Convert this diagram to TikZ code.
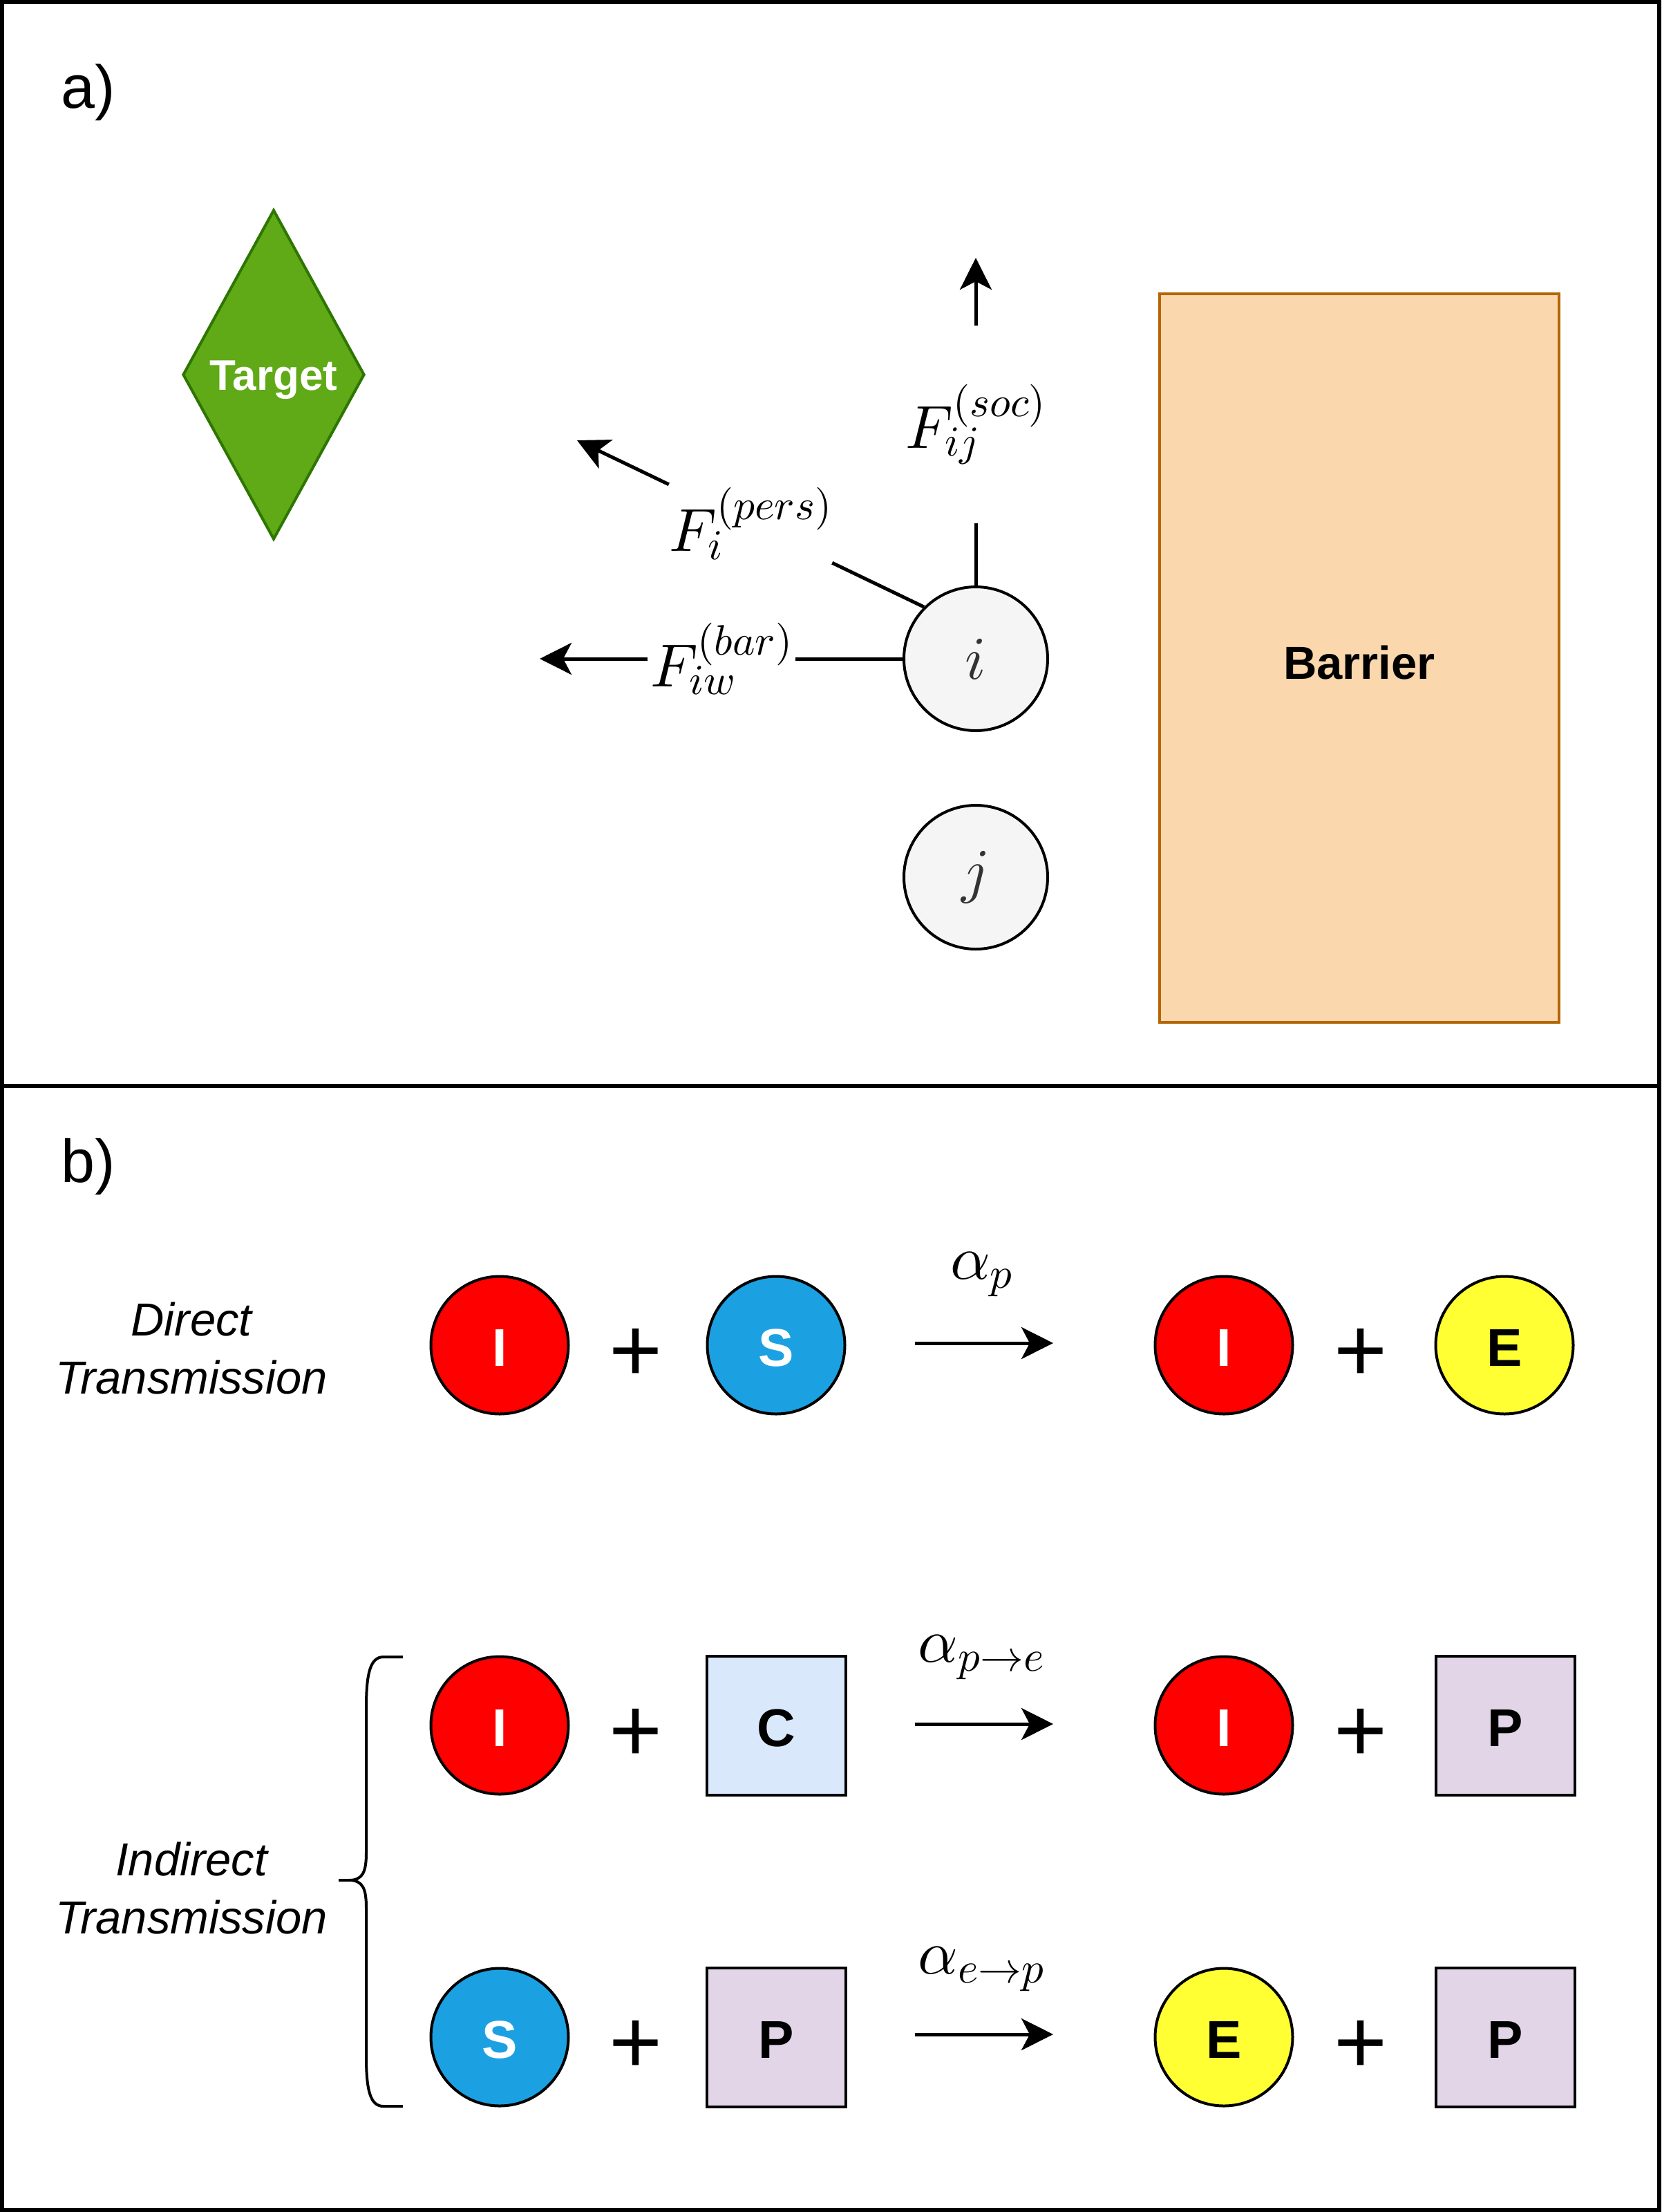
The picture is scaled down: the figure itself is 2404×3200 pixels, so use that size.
\RequirePackage{fix-cm}
\documentclass[tikz,border=0pt]{standalone}
\usepackage[no-math]{fontspec}
\setmainfont{Liberation Sans}
\usetikzlibrary{arrows.meta,shapes.geometric,calc}
% single-design (scaled 10pt) math fonts, as MathJax renders them
\DeclareFontShape{OML}{cmm}{m}{it}{<->cmmi10}{\skewchar\font127}
\DeclareFontShape{OT1}{cmr}{m}{n}{<->cmr10}{}
\DeclareFontShape{OMS}{cmsy}{m}{n}{<->cmsy10}{\skewchar\font48}
\definecolor{cred}{HTML}{FF0000}
\definecolor{cblue}{HTML}{1BA1E2}
\definecolor{cyel}{HTML}{FFFF33}
\definecolor{cC}{HTML}{DAE8FC}
\definecolor{cP}{HTML}{E1D5E7}
\definecolor{barfill}{HTML}{FAD7AC}
\definecolor{barline}{HTML}{B46504}
\definecolor{tgfill}{HTML}{60A917}
\definecolor{tgline}{HTML}{2D7600}
\definecolor{agfill}{HTML}{F5F5F5}
\definecolor{agtext}{HTML}{333333}
\newcommand\fsz[1]{\fontsize{#1}{#1}\selectfont}
\tikzset{
  panellbl/.style={inner sep=0pt, font=\fsz{88}},
  agent/.style={circle, draw=black, line width=4pt, fill=agfill, minimum size=208pt, inner sep=0pt, text=agtext, font=\fsz{88}},
  flabel/.style={inner sep=0pt, font=\fsz{88}},
  arr/.style={line width=5pt, -{Stealth[length=46pt,width=46pt,inset=12pt]}},
  fline/.style={line width=5pt},
  token/.style={circle, draw=black, line width=4pt, minimum size=199pt, inner sep=0pt, text height=61pt, text depth=0pt, font=\bfseries\fsz{77}},
  sq/.style={rectangle, draw=black, line width=4pt, minimum size=201pt, inner sep=0pt, text height=61pt, text depth=0pt, font=\bfseries\fsz{77}},
  tI/.style={token, fill=cred, text=white},
  tS/.style={token, fill=cblue, text=white},
  tE/.style={token, fill=cyel, text=black},
  sC/.style={sq, fill=cC},
  sP/.style={sq, fill=cP},
  plus/.style={inner sep=0pt, font=\fsz{132}},
  rate/.style={inner sep=0pt, font=\fsz{90}},
  sidelbl/.style={inner sep=0pt, align=center, font=\itshape\fontsize{67}{84}\selectfont},
}
\begin{document}
\begin{tikzpicture}[x=1pt,y=-1pt]
\useasboundingbox (0,0) rectangle (2404,3200);
% frames
\draw[line width=6pt] (3,3) rectangle (2401,3197);
\draw[line width=6pt] (0,1571) -- (2404,1571);

% ---------- panel a ----------
\node[panellbl, anchor=base west] (la) at (88,157) {a)};

\node[diamond, draw=tgline, fill=tgfill, line width=4pt, minimum width=263pt, minimum height=477pt, inner sep=0pt, text height=45pt, text depth=0pt, text=white, font=\bfseries\fsz{62}] (target) at (396,542) {Target};

\node[rectangle, draw=barline, fill=barfill, line width=3.5pt, minimum width=578pt, minimum height=1054pt, inner sep=0pt, text height=60pt, text depth=0pt, font=\bfseries\fsz{67}] (barrier) at (1967,952) {Barrier};

\node[agent] (i) at (1412,953) {$i$};
\node[agent] (j) at (1412,1269) {$j$};

% social force
\coordinate (soctip) at (1412,373);
\node[flabel, minimum height=285pt, minimum width=200pt] (socl) at (1412,614) {$F_{ij}^{(soc)}$};
\draw[fline] (i) -- (socl);
\draw[arr] (socl) -- (soctip);

% personal force
\coordinate (perstip) at (835,637);
\node[flabel, minimum width=236pt, minimum height=130pt] (persl) at ($(i.135)!0.5!(perstip)$) {$F_{i}^{(pers)}$};
\draw[fline] (i.135) -- (persl);
\draw[arr] (persl) -- (perstip);

% barrier force
\coordinate (bartip) at (781,953);
\node[flabel, minimum width=213pt, minimum height=150pt] (barl) at (1044,953) {$F_{iw}^{(bar)}$};
\draw[fline] (i) -- (barl);
\draw[arr] (barl) -- (bartip);

% ---------- panel b ----------
\node[panellbl, anchor=base west] (lb) at (88,1710) {b)};

\node[sidelbl] (direct) at (277,1951) {Direct\\Transmission};
\node[sidelbl] (indirect) at (277,2732) {Indirect\\Transmission};

% brace
\draw[line width=4pt] (583,2397) -- (555,2397) .. controls (536,2397) and (530,2420) .. (530,2470)
  -- (530,2680) .. controls (530,2708) and (525,2720) .. (505,2720) -- (490,2720)
  (490,2720) -- (505,2720) .. controls (525,2720) and (530,2732) .. (530,2760)
  -- (530,2975) .. controls (530,3025) and (536,3047) .. (555,3047) -- (583,3047);

% row 1
\node[tI] (r1a) at (723,1946) {I};
\node[plus] (p1a) at (920,1960) {+};
\node[tS] (r1b) at (1123,1946) {S};
\coordinate (a1s) at (1324,1943);
\coordinate (a1e) at (1524,1943);
\draw[arr] (a1s) -- (a1e);
\node[rate, anchor=base] (k1) at (1420,1850) {$\alpha_p$};
\node[tI] (r1c) at (1771,1946) {I};
\node[plus] (p1b) at (1969,1960) {+};
\node[tE] (r1d) at (2177,1946) {E};

% row 2
\node[tI] (r2a) at (723,2496) {I};
\node[plus] (p2a) at (920,2510) {+};
\node[sC] (r2b) at (1123,2496) {C};
\coordinate (a2s) at (1324,2494);
\coordinate (a2e) at (1524,2494);
\draw[arr] (a2s) -- (a2e);
\node[rate, anchor=base] (k2) at (1420,2404) {$\alpha_{p\rightarrow e}$};
\node[tI] (r2c) at (1771,2496) {I};
\node[plus] (p2b) at (1969,2510) {+};
\node[sP] (r2d) at (2178,2496) {P};

% row 3
\node[tS] (r3a) at (723,2947) {S};
\node[plus] (p3a) at (920,2961) {+};
\node[sP] (r3b) at (1123,2947) {P};
\coordinate (a3s) at (1324,2943);
\coordinate (a3e) at (1524,2943);
\draw[arr] (a3s) -- (a3e);
\node[rate, anchor=base] (k3) at (1420,2855) {$\alpha_{e\rightarrow p}$};
\node[tE] (r3c) at (1771,2947) {E};
\node[plus] (p3b) at (1969,2961) {+};
\node[sP] (r3d) at (2178,2947) {P};
\end{tikzpicture}
\end{document}
